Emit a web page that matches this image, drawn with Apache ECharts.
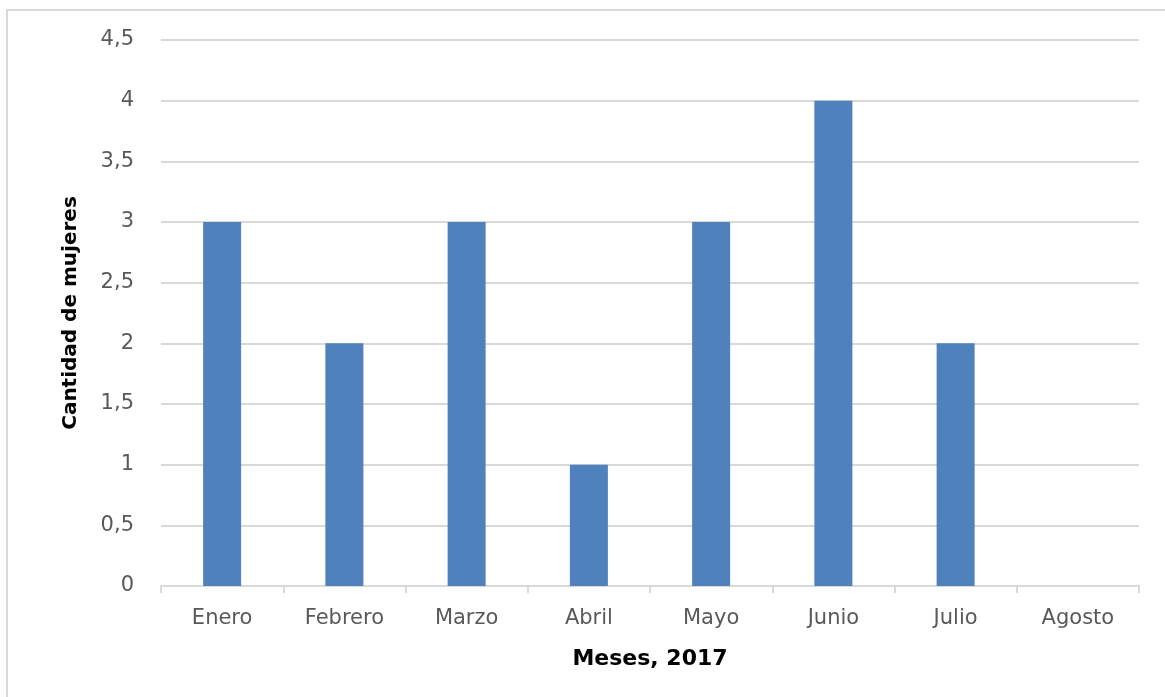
<!DOCTYPE html>
<html>
<head>
<meta charset="utf-8">
<script src="https://cdn.jsdelivr.net/npm/echarts@6/dist/echarts.min.js"></script>
<style>html,body{margin:0;padding:0;background:#fff}#c{width:1165px;height:697px}</style>
</head>
<body>
<div id="c"></div>
<script>
const categories = ['Enero','Febrero','Marzo','Abril','Mayo','Junio','Julio','Agosto'];
const values = [3, 2, 3, 1, 3, 4, 2, 0];
const yTicks = [0, 0.5, 1, 1.5, 2, 2.5, 3, 3.5, 4, 4.5];
const xTitle = 'Meses, 2017';
const yTitle = 'Cantidad de mujeres';

const chart = echarts.init(document.getElementById('c'));
chart.setOption({
  animation: false,
  graphic: [{
    type: 'rect', shape: {x: 7, y: 10, width: 1200, height: 720},
    style: {fill: 'none', stroke: '#d9d9d9', lineWidth: 2}, silent: true
  }],
  grid: {left: 161, right: 26, top: 40, bottom: 111},
  xAxis: {
    type: 'category', data: categories,
    axisLine: {lineStyle: {color: '#d9d9d9', width: 2}},
    axisTick: {show: true, alignWithLabel: false, length: 7, lineStyle: {color: '#d9d9d9', width: 2}},
    axisLabel: {color: '#595959', fontFamily: 'DejaVu Sans', fontSize: 21, margin: 22},
    name: xTitle, nameLocation: 'middle', nameGap: 62,
    nameTextStyle: {color: '#000', fontWeight: 'bold', fontFamily: 'DejaVu Sans', fontSize: 22}
  },
  yAxis: {
    type: 'value', min: 0, max: 4.5, interval: 0.5,
    axisLine: {show: false}, axisTick: {show: false},
    splitLine: {lineStyle: {color: '#d9d9d9', width: 2}},
    axisLabel: {color: '#595959', fontFamily: 'DejaVu Sans', fontSize: 21, margin: 27,
      formatter: v => yTicks.includes(v) ? String(v).replace('.', ',') : ''},
    name: yTitle, nameLocation: 'middle', nameGap: 80,
    nameTextStyle: {color: '#000', fontWeight: 'bold', fontFamily: 'DejaVu Sans', fontSize: 20}
  },
  series: [{
    type: 'bar', data: values, barWidth: 38,
    itemStyle: {color: '#4f81bd'}
  }]
});
</script>
</body>
</html>
